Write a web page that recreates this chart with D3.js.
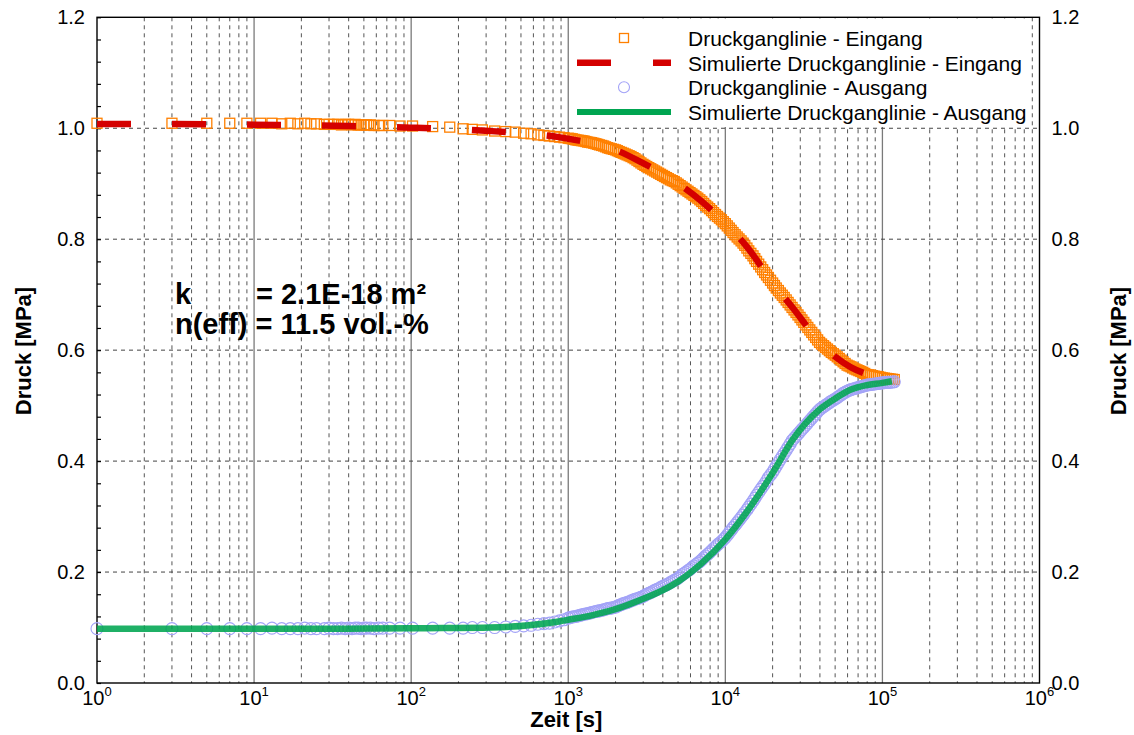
<!DOCTYPE html>
<html><head><meta charset="utf-8">
<script src="https://cdn.jsdelivr.net/npm/d3@7"></script>
<style>body{margin:0;background:#fff;} svg{display:block;font-family:"Liberation Sans",Arial,Helvetica,sans-serif;}</style>
</head><body><svg id="chart" width="1134" height="735"></svg>
<script>
// ---------- data ----------
const yTicks = [0, 0.2, 0.4, 0.6, 0.8, 1.0, 1.2];
const xDecades = [1, 10, 100, 1000, 10000, 100000, 1000000];
const xExponents = ["0", "1", "2", "3", "4", "5", "6"];
const legendLabels = ["Druckganglinie - Eingang", "Simulierte Druckganglinie - Eingang", "Druckganglinie - Ausgang", "Simulierte Druckganglinie - Ausgang"];
const annotationLines = ["k", "= 2.1E-18 m²", "n(eff) = 11.5 vol.-%"];
const xTitle = "Zeit [s]";
const yTitle = "Druck [MPa]";

// simulated curves (s, MPa)
const simTime = [1, 3.16, 10, 20, 40, 100, 158, 316, 562, 871, 1000, 1413, 1995, 2951, 3981, 5012, 7079, 10000, 13490, 19950, 26920, 39810, 50120, 63100, 79430, 100000, 114800];
const simInlet = [1.0076, 1.0075, 1.0065, 1.0055, 1.004, 1.001, 0.999, 0.995, 0.990, 0.984, 0.981, 0.973, 0.961, 0.938, 0.918, 0.900, 0.868, 0.828, 0.789, 0.722, 0.676, 0.615, 0.588, 0.569, 0.557, 0.551, 0.549];
const simOutlet = [0.098, 0.098, 0.098, 0.098, 0.098, 0.0985, 0.099, 0.100, 0.104, 0.111, 0.114, 0.122, 0.133, 0.151, 0.167, 0.183, 0.216, 0.259, 0.306, 0.378, 0.439, 0.493, 0.513, 0.529, 0.537, 0.541, 0.544];

// measured curves (s, MPa) – logged samples
const measTime = [1,3,5,7,9,11,13,15,17,19,21,23,25,
  28,30,32,34,36,38,40,42,44,46,48,50,52,
  55,58,62,66,73,85,102,
  137,176,214,245,284,340,
  400,460,520,580,640,700,760,820,880,940,1000,
  1060,1120,1190,1260,1330,1410,1500,1580,1680,1780,1880,2000,
  2110,2240,2370,2510,2660,2820,2990,3160,3350,3550,3760,3980,
  4220,4470,4730,5010,5310,5620,5960,6310,6680,7080,7500,7940,
  8410,8910,9440,10000,10600,11200,11900,12600,13300,14100,15000,15800,
  16800,17800,18800,20000,21100,22400,23700,25100,26600,28200,29900,31600,
  33500,35500,37600,39800,42200,44700,47300,50100,53100,56200,59600,63100,
  66800,70800,75000,79400,84100,89100,94400,100000,106000,112000,119000];
const measInlet = [1.009,1.009,1.009,1.009,1.009,1.009,1.009,1.008,1.009,1.008,1.009,1.008,1.008,
  1.007,1.007,1.007,1.007,1.006,1.007,1.007,1.006,1.007,1.006,1.006,1.006,1.006,
  1.006,1.005,1.005,1.005,1.005,1.004,1.004,
  1.003,1.002,0.999,0.998,0.997,0.995,
  0.994,0.993,0.991,0.990,0.988,0.987,0.986,0.985,0.984,0.983,0.982,
  0.981,0.979,0.978,0.977,0.975,0.974,0.972,0.970,0.968,0.965,0.963,0.961,
  0.958,0.955,0.952,0.949,0.945,0.940,0.935,0.931,0.927,0.923,0.919,0.915,
  0.911,0.907,0.904,0.899,0.894,0.889,0.884,0.879,0.874,0.868,0.861,0.855,
  0.848,0.841,0.835,0.828,0.820,0.812,0.804,0.797,0.789,0.779,0.770,0.760,
  0.750,0.740,0.731,0.721,0.712,0.703,0.695,0.686,0.677,0.668,0.659,0.650,
  0.641,0.632,0.623,0.614,0.608,0.602,0.596,0.591,0.585,0.579,0.573,0.570,
  0.566,0.563,0.560,0.556,0.555,0.553,0.552,0.550,0.549,0.548,0.547];
const measOutlet = [0.098,0.098,0.098,0.098,0.098,0.098,0.099,0.098,0.098,0.098,0.099,0.098,0.098,
  0.098,0.099,0.098,0.098,0.099,0.098,0.099,0.098,0.099,0.099,0.098,0.099,0.099,
  0.099,0.098,0.099,0.099,0.099,0.099,0.099,
  0.099,0.099,0.099,0.100,0.100,0.100,
  0.101,0.102,0.103,0.104,0.106,0.107,0.108,0.110,0.112,0.114,0.117,
  0.119,0.120,0.122,0.124,0.125,0.127,0.129,0.130,0.132,0.134,0.135,0.137,
  0.140,0.143,0.145,0.148,0.151,0.153,0.156,0.160,0.163,0.167,0.170,0.174,
  0.177,0.181,0.185,0.189,0.195,0.200,0.205,0.211,0.216,0.222,0.229,0.235,
  0.242,0.249,0.255,0.262,0.271,0.280,0.289,0.298,0.307,0.317,0.328,0.338,
  0.349,0.359,0.370,0.380,0.391,0.403,0.414,0.425,0.437,0.445,0.453,0.461,
  0.469,0.477,0.485,0.493,0.498,0.503,0.508,0.512,0.517,0.522,0.526,0.529,
  0.531,0.533,0.535,0.537,0.538,0.539,0.540,0.541,0.542,0.542,0.543];

// additional measured samples in the densely logged late phase (s, MPa)
const measTimeLate = [1029,1090,1155,1223,1295,1372,1454,1540,1631,1728,
  1830,1939,2054,2176,2305,2441,2586,2739,2901,3073,
  3255,3448,3652,3868,4097,4340,4597,4870,5158,5464,
  5788,6131,6494,6879,7286,7718,8175,8660,9173,9716,
  10290,10900,11550,12230,12960,13720,14540,15400,16310,17280,
  18300,19390,20540,21760,23050,24410,25860,27390,29010,30730,
  32550,34480,36520,38680,40970,43400,45970,48700,51580,54640,
  57880,61310,64940,68790,72860,77180,81750,86600,91730,97160,
  102900,109000,115500];
const measInletLate = [0.9815,0.980,0.9785,0.9775,0.976,0.9745,0.973,0.971,0.969,0.9665,
  0.964,0.962,0.9595,0.9565,0.9535,0.9505,0.947,0.9425,0.9375,0.933,
  0.929,0.925,0.921,0.917,0.913,0.909,0.9055,0.9015,0.8965,0.8915,
  0.8865,0.8815,0.8765,0.871,0.8645,0.858,0.8515,0.8445,0.838,0.8315,
  0.824,0.816,0.808,0.8005,0.793,0.784,0.7745,0.765,0.755,0.745,
  0.7355,0.726,0.7165,0.7075,0.699,0.6905,0.6815,0.6725,0.6635,0.6545,
  0.6455,0.6365,0.6275,0.6185,0.611,0.605,0.599,0.5935,0.588,0.582,
  0.576,0.5715,0.568,0.5645,0.5615,0.558,0.5555,0.554,0.5525,0.551,
  0.5495,0.5485,0.5475];
const measOutletLate = [0.118,0.1195,0.121,0.123,0.1245,0.126,0.128,0.1295,0.131,0.133,
  0.1345,0.136,0.1385,0.1415,0.144,0.1465,0.1495,0.152,0.1545,0.158,
  0.1615,0.165,0.1685,0.172,0.1755,0.179,0.183,0.187,0.192,0.1975,
  0.2025,0.208,0.2135,0.219,0.2255,0.232,0.2385,0.2455,0.252,0.2585,
  0.2665,0.2755,0.2845,0.2935,0.3025,0.312,0.3225,0.333,0.3435,0.354,
  0.3645,0.375,0.3855,0.397,0.4085,0.4195,0.431,0.441,0.449,0.457,
  0.465,0.473,0.481,0.489,0.4955,0.5005,0.5055,0.510,0.5145,0.5195,
  0.524,0.5275,0.530,0.532,0.534,0.536,0.5375,0.5385,0.5395,0.5405,
  0.5415,0.542,0.5425];

// ---------- layout ----------
const X0 = 97, X1 = 1039.5, Y0 = 683, Y1 = 17.3;
const FONT = '"Liberation Sans", Arial, Helvetica, sans-serif';
const C_ORANGE = "#ff8000", C_RED = "#d40000", C_BLUE = "#a3a3f7", C_GREEN = "#00a551";

const svg = d3.select("#chart");
const x = d3.scaleLog().domain([1, 1e6]).range([X0, X1]);
const y = d3.scaleLinear().domain([0, 1.2]).range([Y0, Y1]);

// grid: minor verticals (dashed), major verticals (solid grey), horizontal (dashed)
const minor = [];
xDecades.slice(0, -1).forEach(d => { for (let k = 2; k <= 9; k++) minor.push(d * k); });
const grid = svg.append("g");
grid.selectAll("line.minor").data(minor).join("line")
  .attr("x1", d => x(d)).attr("x2", d => x(d)).attr("y1", Y1).attr("y2", Y0)
  .attr("stroke", "#555").attr("stroke-width", 1).attr("stroke-dasharray", "4,4");
grid.selectAll("line.major").data(xDecades.slice(1, -1)).join("line")
  .attr("x1", d => x(d)).attr("x2", d => x(d)).attr("y1", Y1).attr("y2", Y0)
  .attr("stroke", "#7a7a7a").attr("stroke-width", 1.3);
grid.selectAll("line.h").data(yTicks.slice(1, -1)).join("line")
  .attr("x1", X0).attr("x2", X1).attr("y1", d => y(d)).attr("y2", d => y(d))
  .attr("stroke", "#444").attr("stroke-width", 1).attr("stroke-dasharray", "4,4");

// frame
svg.append("rect").attr("x", X0).attr("y", Y1).attr("width", X1 - X0).attr("height", Y0 - Y1)
  .attr("fill", "none").attr("stroke", "#000").attr("stroke-width", 1.4);

// minor y ticks on left (inward)
svg.append("g").attr("transform", `translate(${X0},0)`)
  .call(d3.axisLeft(y).tickValues(d3.range(0, 1.2001, 0.04)).tickSize(-4).tickFormat(""))
  .call(g => g.select(".domain").remove())
  .selectAll("line").attr("stroke", "#000").attr("stroke-width", 1.2);

// x tick labels (10^n)
const xl = svg.append("g").attr("font-family", FONT);
xDecades.forEach((d, i) => {
  const t = xl.append("text").attr("x", x(d)).attr("y", 705).attr("text-anchor", "middle").attr("font-size", 20);
  t.append("tspan").text("10");
  t.append("tspan").attr("dy", -9).attr("font-size", 13).text(xExponents[i]);
});

// y axis labels (left and right)
function styleAxis(g) {
  g.attr("font-size", 20).attr("font-family", FONT);
  g.select(".domain").remove();
  g.selectAll("text").attr("fill", "#000");
}
svg.append("g").attr("transform", `translate(${X0},0)`)
  .call(d3.axisLeft(y).tickValues(yTicks).tickFormat(d3.format(".1f")).tickSize(0).tickPadding(12))
  .call(styleAxis);
svg.append("g").attr("transform", `translate(${X1},0)`)
  .call(d3.axisRight(y).tickValues(yTicks).tickFormat(d3.format(".1f")).tickSize(0).tickPadding(12))
  .call(styleAxis);

// axis titles
svg.append("text").attr("x", (X0 + X1) / 2 - 2).attr("y", 727).attr("text-anchor", "middle")
  .attr("font-size", 22).attr("font-weight", "bold").attr("font-family", FONT).text(xTitle);
svg.append("text").attr("transform", `translate(31,351) rotate(-90)`).attr("text-anchor", "middle")
  .attr("font-size", 22).attr("font-weight", "bold").attr("font-family", FONT).text(yTitle);
svg.append("text").attr("transform", `translate(1126,351) rotate(-90)`).attr("text-anchor", "middle")
  .attr("font-size", 22).attr("font-weight", "bold").attr("font-family", FONT).text(yTitle);

// data
const meas = measTime.map((t, i) => ({ t, vi: measInlet[i], vo: measOutlet[i] }))
  .concat(measTimeLate.map((t, i) => ({ t, vi: measInletLate[i], vo: measOutletLate[i] })))
  .sort((a, b) => a.t - b.t);
const sim = simTime.map((t, i) => ({ t, vi: simInlet[i], vo: simOutlet[i] }));

const SQ = 10;
svg.append("g").selectAll("rect").data(meas).join("rect")
  .attr("x", d => x(d.t) - SQ / 2).attr("y", d => y(d.vi) - SQ / 2)
  .attr("width", SQ).attr("height", SQ)
  .attr("fill", "none").attr("stroke", C_ORANGE).attr("stroke-width", 1.3);

const lineIn = d3.line().x(d => x(d.t)).y(d => y(d.vi)).curve(d3.curveMonotoneX);
const lineOut = d3.line().x(d => x(d.t)).y(d => y(d.vo)).curve(d3.curveMonotoneX);

svg.append("path").datum(sim).attr("d", lineIn)
  .attr("fill", "none").attr("stroke", C_RED).attr("stroke-width", 6.5).attr("stroke-dasharray", "34,41");

svg.append("g").selectAll("circle").data(meas).join("circle")
  .attr("cx", d => x(d.t)).attr("cy", d => y(d.vo)).attr("r", 6)
  .attr("fill", "none").attr("stroke", C_BLUE).attr("stroke-width", 1.1);

svg.append("path").datum(sim).attr("d", lineOut)
  .attr("fill", "none").attr("stroke", C_GREEN).attr("stroke-width", 6.5).attr("stroke-opacity", 0.88);

// annotation
const ann = svg.append("g").attr("font-family", FONT).attr("font-weight", "bold").attr("font-size", 29);
ann.append("text").attr("x", 175).attr("y", 304).text(annotationLines[0]);
ann.append("text").attr("x", 256).attr("y", 304).text(annotationLines[1]);
ann.append("text").attr("x", 175).attr("y", 334).text(annotationLines[2]);

// legend
const lg = svg.append("g").attr("font-family", FONT);
lg.append("rect").attr("x", 572).attr("y", 18.5).attr("width", 458).attr("height", 108.5).attr("fill", "#fff");
const rowY = [38, 62.7, 87.3, 112];
lg.append("rect").attr("x", 624 - 4.5).attr("y", rowY[0] - 4.5).attr("width", 9).attr("height", 9)
  .attr("fill", "none").attr("stroke", C_ORANGE).attr("stroke-width", 1.3);
lg.append("line").attr("x1", 577).attr("x2", 671).attr("y1", rowY[1]).attr("y2", rowY[1])
  .attr("stroke", C_RED).attr("stroke-width", 6.5).attr("stroke-dasharray", "34,42");
lg.append("circle").attr("cx", 624).attr("cy", rowY[2]).attr("r", 5.5)
  .attr("fill", "none").attr("stroke", C_BLUE).attr("stroke-width", 1.1);
lg.append("line").attr("x1", 577).attr("x2", 671).attr("y1", rowY[3]).attr("y2", rowY[3])
  .attr("stroke", C_GREEN).attr("stroke-width", 6);
legendLabels.forEach((s, i) => {
  lg.append("text").attr("x", 688).attr("y", rowY[i] + 8).attr("font-size", 21).attr("fill", "#000").text(s);
});
</script></body></html>
